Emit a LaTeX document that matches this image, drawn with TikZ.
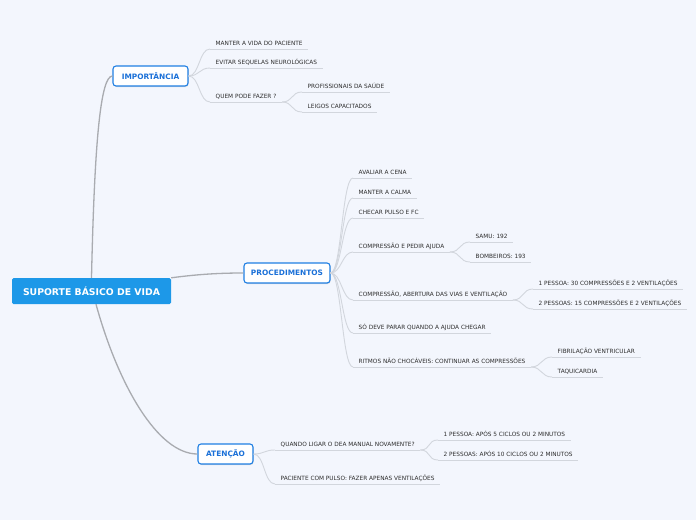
\documentclass[tikz,border=0pt]{standalone}
\usepackage{fontspec}
\setmainfont{DejaVu Sans}
\usepackage{tikz}
\usetikzlibrary{shadows}

\definecolor{bgpage}{HTML}{F3F6FD}
\definecolor{rootblue}{HTML}{1D98E8}
\definecolor{topicblue}{HTML}{1F7FE3}
\definecolor{topictext}{HTML}{1A70D8}
\definecolor{mainline}{HTML}{A9ABB0}
\definecolor{leafline}{HTML}{D2D6DD}
\definecolor{leaftext}{HTML}{2C2C2C}

\tikzset{
  rootbox/.style={fill=rootblue, text=white, rounded corners=1.5pt, minimum width=159pt, minimum height=26pt, font=\fontsize{9.3}{10}\selectfont\bfseries},
  topicbox/.style={draw=topicblue, line width=1.1pt, fill=white, text=topictext, rounded corners=3pt, minimum height=20pt, inner xsep=0pt, font=\fontsize{7.4}{9}\selectfont\bfseries, drop shadow={shadow xshift=0.6pt, shadow yshift=-1pt, opacity=0.25}},
  leaf/.style={anchor=south west, inner xsep=5.5pt, inner ysep=2pt, text height=4.5pt, text depth=1.7pt, text=leaftext, font=\fontsize{5.8}{7}\selectfont},
  uline/.style={draw=leafline, line width=0.9pt},
  mainlink/.style={draw=mainline, line width=1.3pt},
  link/.style={draw=leafline, line width=0.9pt, to path={.. controls +(11,0) and +(-11,0) .. (\tikztotarget)}},
}

\begin{document}
\begin{tikzpicture}[x=1pt, y=-1pt]
  \fill[bgpage] (0,0) rectangle (696,520);
  \useasboundingbox (0,0) rectangle (696,520);

  % main topics
  \node[rootbox] (root) at (91.5,291) {SUPORTE BÁSICO DE VIDA};
  \node[topicbox, minimum width=75pt] (imp) at (150.5,76) {IMPORTÂNCIA};
  \node[topicbox, minimum width=86pt] (proc) at (287,273) {PROCEDIMENTOS};
  \node[topicbox, minimum width=55pt] (aten) at (225.5,454) {ATENÇÃO};

  \draw[mainlink] (root.north) .. controls +(3,-135) and +(-12,0) .. (imp.west);
  \draw[mainlink] (root.north east) .. controls +(30,-4) and +(-20,0) .. (proc.west);
  \draw[mainlink] ([xshift=4.5pt]root.south) .. controls +(22,80) and +(-40,0) .. (aten.west);

  % importancia
  \node[leaf] (i1) at (210,49) {MANTER A VIDA DO PACIENTE};
  \node[leaf] (i2) at (210,68) {EVITAR SEQUELAS NEUROLÓGICAS};
  \node[leaf] (i3) at (210,102) {QUEM PODE FAZER ?};
  \node[leaf] (i31) at (302,92) {PROFISSIONAIS DA SAÚDE};
  \node[leaf] (i32) at (302,112) {LEIGOS CAPACITADOS};

  % procedimentos
  \node[leaf] (p1) at (353,178) {AVALIAR A CENA};
  \node[leaf] (p2) at (353,198) {MANTER A CALMA};
  \node[leaf] (p3) at (353,218) {CHECAR PULSO E FC};
  \node[leaf] (p4) at (353,252) {COMPRESSÃO E PEDIR AJUDA};
  \node[leaf] (p41) at (470,242) {SAMU: 192};
  \node[leaf] (p42) at (470,262) {BOMBEIROS: 193};
  \node[leaf] (p5) at (353,300) {COMPRESSÃO, ABERTURA DAS VIAS E VENTILAÇÃO};
  \node[leaf] (p51) at (533,289) {1 PESSOA: 30 COMPRESSÕES E 2 VENTILAÇÕES};
  \node[leaf] (p52) at (533,309) {2 PESSOAS: 15 COMPRESSÕES E 2 VENTILAÇÕES};
  \node[leaf] (p6) at (353,333) {SÓ DEVE PARAR QUANDO A AJUDA CHEGAR};
  \node[leaf] (p7) at (353,367) {RITMOS NÃO CHOCÁVEIS: CONTINUAR AS COMPRESSÕES};
  \node[leaf] (p71) at (552,357) {FIBRILAÇÃO VENTRICULAR};
  \node[leaf] (p72) at (552,377) {TAQUICARDIA};

  % atencao
  \node[leaf] (a1) at (275,450) {QUANDO LIGAR O DEA MANUAL NOVAMENTE?};
  \node[leaf] (a11) at (438,440) {1 PESSOA: APÓS 5 CICLOS OU 2 MINUTOS};
  \node[leaf] (a12) at (438,460) {2 PESSOAS: APÓS 10 CICLOS OU 2 MINUTOS};
  \node[leaf] (a2) at (275,484) {PACIENTE COM PULSO: FAZER APENAS VENTILAÇÕES};

  \foreach \n in {i1,i2,i3,i31,i32,p1,p2,p3,p4,p41,p42,p5,p51,p52,p6,p7,p71,p72,a1,a11,a12,a2}
    \draw[uline] (\n.south west) -- (\n.south east);

  \foreach \a/\b in {imp/i1, imp/i2, imp/i3, proc/p1, proc/p2, proc/p3, proc/p4, proc/p5, proc/p6, proc/p7, aten/a1, aten/a2}
    \draw[link] (\a.east) to (\b.south west);

  \foreach \a/\b in {i3/i31, i3/i32, p4/p41, p4/p42, p5/p51, p5/p52, p7/p71, p7/p72, a1/a11, a1/a12}
    \draw[link] (\a.south east) to (\b.south west);
\end{tikzpicture}
\end{document}
